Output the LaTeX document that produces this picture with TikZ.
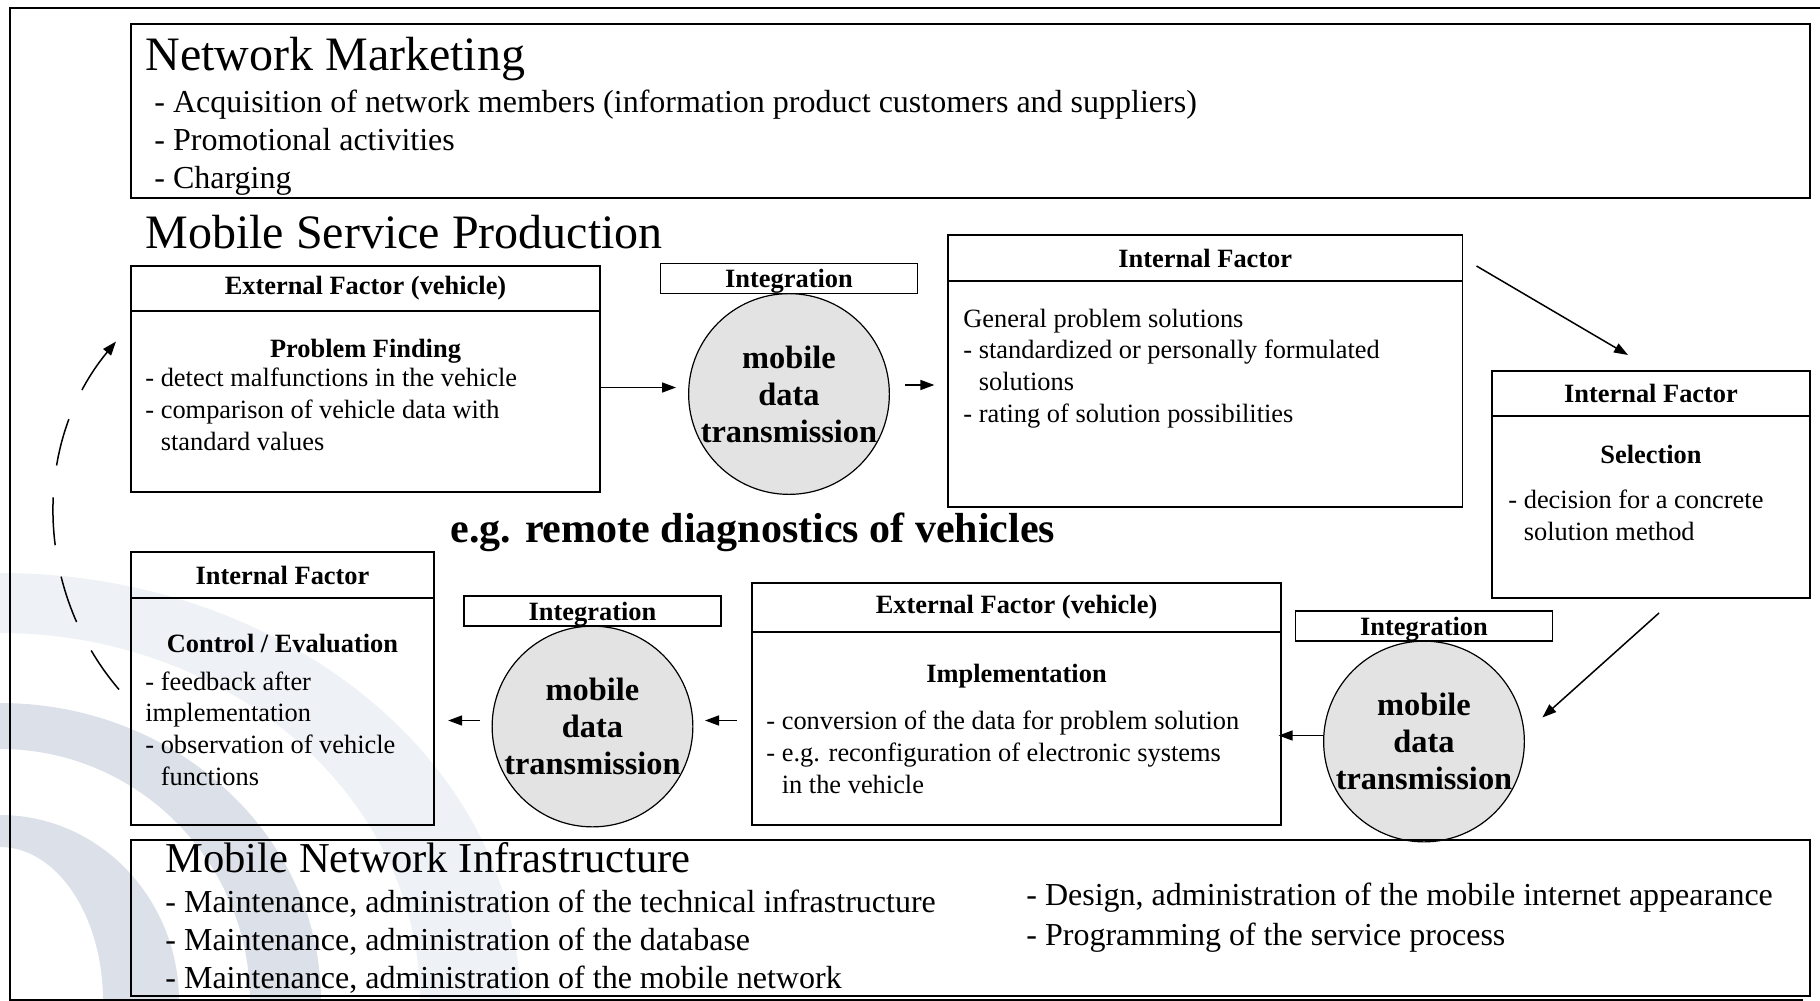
\documentclass[tikz,border=0pt]{standalone}
\usepackage{fontspec}
\setmainfont{Liberation Serif}
\usetikzlibrary{arrows.meta,positioning}
\definecolor{wmark}{HTML}{DCE1E9}
\definecolor{wmarklight}{HTML}{EEF1F5}
\definecolor{mdtfill}{HTML}{E3E3E3}

\begin{document}
\begin{tikzpicture}[
    x=0.5pt, y=-0.5pt,
    box/.style={draw, line width=0.8pt, inner sep=0pt, outer sep=0pt},
    hdr/.style={box, font=\fontsize{13.2}{16}\selectfont\bfseries},
    integ/.style={box, minimum width=128.5pt, minimum height=15pt, text height=9pt, text depth=0pt, font=\fontsize{13.2}{16}\selectfont\bfseries},
    mdt/.style={circle, draw, line width=0.6pt, fill=mdtfill, minimum size=98pt, inner sep=0pt, outer sep=0pt, align=center, font=\fontsize{16.2}{18.5}\selectfont\bfseries},
    bigtitle/.style={anchor=base west, inner sep=0pt, font=\fontsize{24}{28}\selectfont},
    midtitle/.style={anchor=base west, inner sep=0pt, font=\fontsize{21.3}{25}\selectfont},
    items/.style={anchor=base west, inner sep=0pt, align=left, font=\fontsize{16}{19}\selectfont},
    subtitle/.style={anchor=base, inner sep=0pt, font=\fontsize{13.2}{16}\selectfont\bfseries},
    body/.style={anchor=base west, inner sep=0pt, align=left, font=\fontsize{13.2}{15.8}\selectfont},
    arr/.style={-{Triangle[length=7pt,width=5pt]}, line width=0.75pt}
  ]
  \path[use as bounding box] (0,0) rectangle (1820,1001);

  % watermark
  \begin{scope}
    \clip (0,0) rectangle (1820,1001);
    \fill[wmarklight, even odd rule] (0,1001) ellipse [x radius=520, y radius=428] (0,1001) ellipse [x radius=420, y radius=368];
    \fill[wmark, even odd rule] (0,1001) ellipse [x radius=321, y radius=298] (0,1001) ellipse [x radius=250, y radius=252];
    \fill[wmark, even odd rule] (0,1001) ellipse [x radius=179, y radius=186] (0,1001) ellipse [x radius=103, y radius=154];
  \end{scope}
  \draw[line width=0.8pt] (1820,8) -- (10,8) -- (10,1001);
  \draw[line width=0.8pt] (10,1000) -- (1803,1000);

  % Network Marketing (multi-line nodes sit on their last baseline)
  \node[box, minimum width=839.5pt, minimum height=87pt, anchor=north west] (nm) at (131,24) {};
  \node[bigtitle] (nmt) at (145,70) {Network Marketing};
  \node[items] (nmi) at (154,188) {- Acquisition of network members (information product customers and suppliers)\\- Promotional activities\\- Charging};

  % Mobile Service Production
  \node[bigtitle] (msp) at (145,248) {Mobile Service Production};

  \node[hdr, minimum width=234.5pt, minimum height=22.5pt, anchor=north west] (ef1h) at (131,266) {External Factor (vehicle)};
  \node[box, below=0pt of ef1h, minimum width=234.5pt, minimum height=90.5pt] (ef1) {};
  \node[subtitle] (pf) at (365.5,357) {Problem Finding};
  \node[body] (pfi) at (145,450) {- detect malfunctions in the vehicle\\- comparison of vehicle data with\\\phantom{- }standard values};

  \node[mdt] (c1) at (789,394) {mobile\\data\\transmission};
  \node[integ, above=0pt of c1] (int1) {Integration};

  \node[hdr, minimum width=257.25pt, minimum height=23pt, anchor=north west] (if1h) at (948,235) {Internal Factor};
  \node[box, below=0pt of if1h, minimum width=257.25pt, minimum height=113pt] (if1) {};
  \node[body] (gps) at (963,422) {General problem solutions\\- standardized or personally formulated\\\phantom{- }solutions\\- rating of solution possibilities};

  \node[hdr, minimum width=159pt, minimum height=22.5pt, anchor=north west] (if2h) at (1492,371) {Internal Factor};
  \node[box, below=0pt of if2h, minimum width=159pt, minimum height=91pt] (if2) {};
  \node[subtitle] (sel) at (1651,463) {Selection};
  \node[body] (seli) at (1508,540) {- decision for a concrete\\\phantom{- }solution method};

  \node[mdt] (c3) at (1424,741.5) {mobile\\data\\transmission};
  \node[integ, above=0pt of c3] (int3) {Integration};

  \node[hdr, minimum width=264.5pt, minimum height=24.5pt, anchor=north west] (ef2h) at (752,583) {External Factor (vehicle)};
  \node[box, below=0pt of ef2h, minimum width=264.5pt, minimum height=96.5pt] (ef2) {};
  \node[subtitle] (impl) at (1016.5,682) {Implementation};
  \node[body] (impli) at (766,793) {- conversion of the data for problem solution\\- e.g. reconfiguration of electronic systems\\\phantom{- }in the vehicle};

  \node[mdt] (c2) at (592.5,726.5) {mobile\\data\\transmission};
  \node[integ, above=0pt of c2] (int2) {Integration};

  \node[hdr, minimum width=151.5pt, minimum height=23pt, anchor=north west] (if3h) at (131,552) {Internal Factor};
  \node[box, below=0pt of if3h, minimum width=151.5pt, minimum height=113.5pt] (if3) {};
  \node[subtitle] (ce) at (282.5,652) {Control / Evaluation};
  \node[body] (cei) at (145,785) {- feedback after\\implementation\\- observation of vehicle\\\phantom{- }functions};

  \node[anchor=base west, inner sep=0pt, font=\fontsize{21}{25}\selectfont\bfseries] (eg) at (450,542) {e.g. remote diagnostics of vehicles};

  % flow
  \draw[arr] ([yshift=7pt]ef1.east) -- ++(76,0);
  \draw[arr] ([xshift=8pt,yshift=4.5pt]c1.east) -- ++(29,0);
  \draw[arr] ([xshift=7pt,yshift=-4pt]if1h.east) -- ([xshift=-11.5pt,yshift=8pt]if2h.north);
  \draw[arr] ([xshift=4pt,yshift=-7.5pt]if2.south) -- ([xshift=9pt,yshift=12pt]c3.east);
  \draw[arr] ([yshift=3pt]c3.west) -- ++(-45,0);
  \draw[arr] ([xshift=-7.5pt,yshift=4pt]ef2.west) -- ++(-32,0);
  \draw[arr] ([xshift=-6pt,yshift=3pt]c2.west) -- ++(-32,0);
  \draw[arr, dash pattern=on 24pt off 16pt] ([xshift=-6pt,yshift=11pt]if3.west) .. controls (34,590) and (32,443) .. ([xshift=-7.5pt,yshift=30pt]ef1.west);

  % Mobile Network Infrastructure
  \node[box, minimum width=839.5pt, minimum height=78pt, anchor=north west] (mni) at (131,840) {};
  \node[midtitle] (mnit) at (165,872) {Mobile Network Infrastructure};
  \node[items] (mnil) at (165,988) {- Maintenance, administration of the technical infrastructure\\- Maintenance, administration of the database\\- Maintenance, administration of the mobile network};
  \node[items, font=\fontsize{16}{20}\selectfont] (mnir) at (1026,945) {- Design, administration of the mobile internet appearance\\- Programming of the service process};
\end{tikzpicture}
\end{document}
